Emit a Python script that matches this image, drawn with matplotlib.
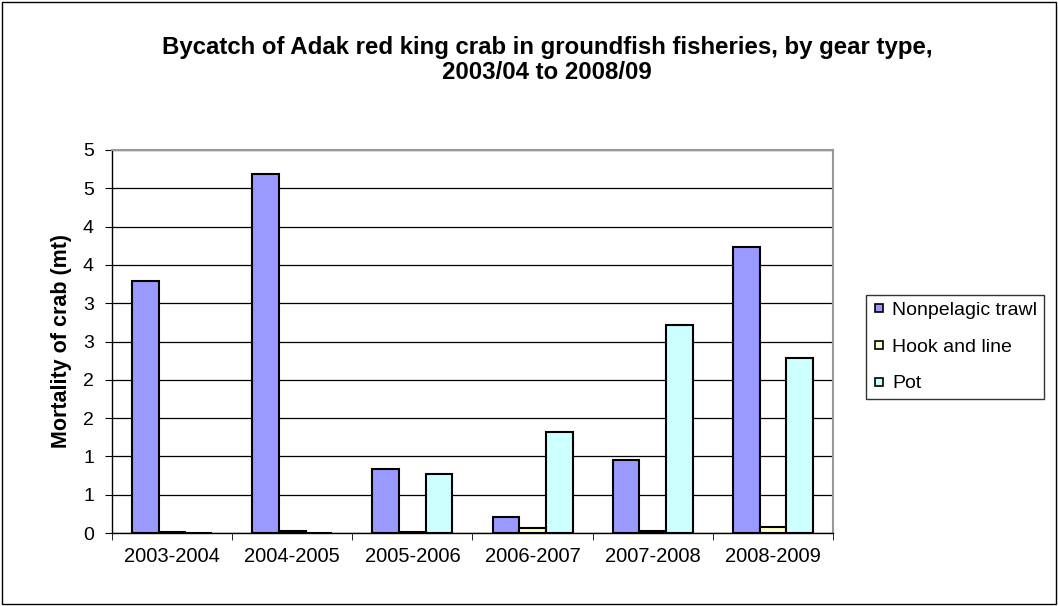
import numpy as np
import matplotlib
matplotlib.use("Agg")
import matplotlib.pyplot as plt
from matplotlib.patches import Rectangle
from matplotlib.lines import Line2D

# Data
seasons = ["2003-2004", "2004-2005", "2005-2006", "2006-2007", "2007-2008", "2008-2009"]
trawl = [3.29, 4.69, 0.84, 0.21, 0.95, 3.73]
hook_line = [0.01, 0.02, 0.01, 0.06, 0.03, 0.08]
pot = [0.0, 0.0, 0.77, 1.32, 2.71, 2.29]
y_ticks = [0, 0.5, 1, 1.5, 2, 2.5, 3, 3.5, 4, 4.5, 5]
y_tick_labels = ["0", "1", "1", "2", "2", "3", "3", "4", "4", "5", "5"]

series = [
    ("Nonpelagic trawl", trawl, "#9999FF"),
    ("Hook and line", hook_line, "#FFFFCC"),
    ("Pot", pot, "#CCFFFF"),
]

plt.rcParams["font.family"] = ["Liberation Sans", "DejaVu Sans"]

fig = plt.figure(figsize=(10.58, 6.06), dpi=100)
ax = fig.add_axes([112 / 1058, 1 - 533 / 606, (833 - 112) / 1058, (533 - 150) / 606])

x = np.arange(len(seasons))
w = 1 / 4.5
for i, (name, vals, col) in enumerate(series):
    ax.bar(x + (i - 1) * w, vals, width=w, color=col, edgecolor="black",
           linewidth=1.5, label=name, zorder=3)

ax.set_xlim(-0.5, len(seasons) - 0.5)
ax.set_ylim(0, 5)
ax.set_yticks(y_ticks)
ax.set_yticklabels(y_tick_labels, fontsize=14)
ax.set_xticks(x)
ax.set_xticklabels(seasons, fontsize=14.5)
ax.set_xticks(np.arange(len(seasons) + 1) - 0.5, minor=True)
ax.tick_params(axis="x", which="major", length=0, pad=10)
ax.tick_params(axis="x", which="minor", length=5, direction="out", color="black")
ax.tick_params(axis="y", length=5, direction="out", pad=8)
ax.yaxis.grid(True, color="black", linewidth=0.9, zorder=0)
ax.set_axisbelow(True)

for s in ["top", "right"]:
    ax.spines[s].set_color("#999999")
    ax.spines[s].set_linewidth(1.5)
ax.spines["left"].set_linewidth(1.0)
ax.spines["bottom"].set_linewidth(1.0)

ax.set_ylabel("Mortality of crab (mt)", fontsize=15.5, fontweight="bold", labelpad=8)

fig.suptitle("Bycatch of Adak red king crab in groundfish fisheries, by gear type,\n2003/04 to 2008/09",
             x=547 / 1058, y=1 - 36 / 606, va="top", fontsize=17.3, fontweight="bold",
             linespacing=1.12)

handles = [Line2D([], [], marker="s", linestyle="none", markersize=5.5,
                  markerfacecolor=col, markeredgecolor="black", markeredgewidth=1.2)
           for _, _, col in series]
leg = ax.legend(handles, [name for name, _, _ in series],
                loc="upper left", bbox_to_anchor=(856 / 1058, 1 - 285 / 606),
                bbox_transform=fig.transFigure, fontsize=14, frameon=True,
                fancybox=False, edgecolor="black", handlelength=0.7,
                handletextpad=0.3, labelspacing=0.98, borderpad=0.35)
leg.get_frame().set_linewidth(1.0)

fig.patches.append(Rectangle((2 / 1058, 2 / 606), 1 - 4 / 1058, 1 - 4 / 606,
                             transform=fig.transFigure, fill=False,
                             edgecolor="black", linewidth=1.0))

fig.savefig("out.png", dpi=100)
